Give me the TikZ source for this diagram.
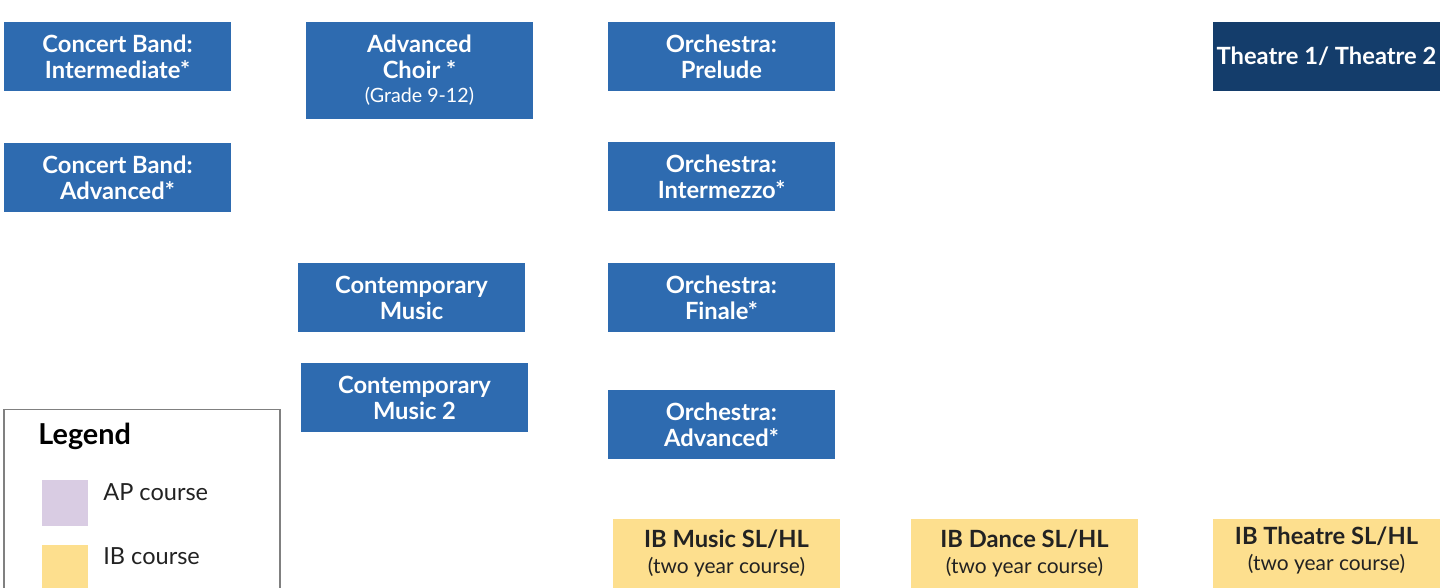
\documentclass[tikz,border=0pt]{standalone}
\usepackage{fontspec}
\setmainfont{Lato}
\usepackage[]{color}
\definecolor{courseblue}{HTML}{2E6BB0}
\definecolor{coursenavy}{HTML}{143D6B}
\definecolor{ibyellow}{HTML}{FDDF8E}
\definecolor{aplilac}{HTML}{D9CCE3}
\definecolor{inktext}{HTML}{222222}

\begin{document}
\begin{tikzpicture}[x=0.02cm, y=-0.02cm]
\tikzset{every node/.style={font=\fontsize{13.5}{14.8}\selectfont\bfseries, align=center, inner sep=0pt},
  course/.style={fill=courseblue, text=white, minimum width=4.54cm, minimum height=1.38cm},
  theatrebox/.style={course, fill=coursenavy},
  ibbox/.style={fill=ibyellow, text=inktext, minimum width=4.54cm, minimum height=1.38cm},
  swatch/.style={minimum width=0.92cm, minimum height=0.92cm},
  legtext/.style={font=\fontsize{13.4}{15}\selectfont, text=inktext, anchor=west}}
        \useasboundingbox (0, 0) rectangle (1441, 588);
        \clip (0, 0) rectangle (1441, 588);

        % band and choir
        \node[course] (cbint) at (117.5, 56.5) {Concert Band:\\Intermediate*};
        \node[course] (cbadv) at (117.5, 177.5) {Concert Band:\\Advanced*};
        \node[course, minimum height=1.94cm] (choir) at (419.5, 70.5)
            {Advanced\\Choir *\\[-1pt]{\mdseries\fontsize{11.2}{13}\selectfont(Grade 9-12)}};
        \node[course] (contemp) at (411.5, 297.5) {Contemporary\\Music};
        \node[course] (contempb) at (414.5, 397.5) {Contemporary\\Music 2};

        % orchestra
        \node[course] (prelude) at (721.5, 56.5) {Orchestra:\\Prelude};
        \node[course] (intermezzo) at (721.5, 176.5) {Orchestra:\\Intermezzo*};
        \node[course] (finale) at (721.5, 297.5) {Orchestra:\\Finale*};
        \node[course] (orchadv) at (721.5, 424.5) {Orchestra:\\Advanced*};

        % theatre
        \node[theatrebox] (theatre) at (1326.5, 56.5) {Theatre 1/ Theatre 2};

        % IB
        \node[ibbox] (ibmusic) at (726.5, 553.5)
            {IB Music SL/HL\\{\mdseries\fontsize{11.9}{13}\selectfont(two year course)}};
        \node[ibbox] (ibdance) at (1024.5, 553.5)
            {IB Dance SL/HL\\{\mdseries\fontsize{11.9}{13}\selectfont(two year course)}};
        \node[ibbox, label={[text=inktext, yshift=0.06cm]center:{IB Theatre SL/HL\\{\mdseries\fontsize{11.9}{13}\selectfont(two year course)}}}]
            (ibtheatre) at (1326.5, 553.5) {};

        % legend
        \draw[gray, line width=0.6pt] (4, 620) -- (4, 409.5) -- (280, 409.5) -- (280, 620);
        \node[anchor=west, text=black, font=\fontsize{16.4}{18}\selectfont\bfseries] (legtitle) at (38, 436) {Legend};
        \node[swatch, fill=aplilac] (apsw) at (65, 503) {};
        \node[swatch, fill=ibyellow] (ibsw) at (65, 568) {};
        \node[legtext] (aptext) at (103, 492) {AP course};
        \node[legtext] (ibtext) at (103, 556) {IB course};
\end{tikzpicture}
\end{document}
